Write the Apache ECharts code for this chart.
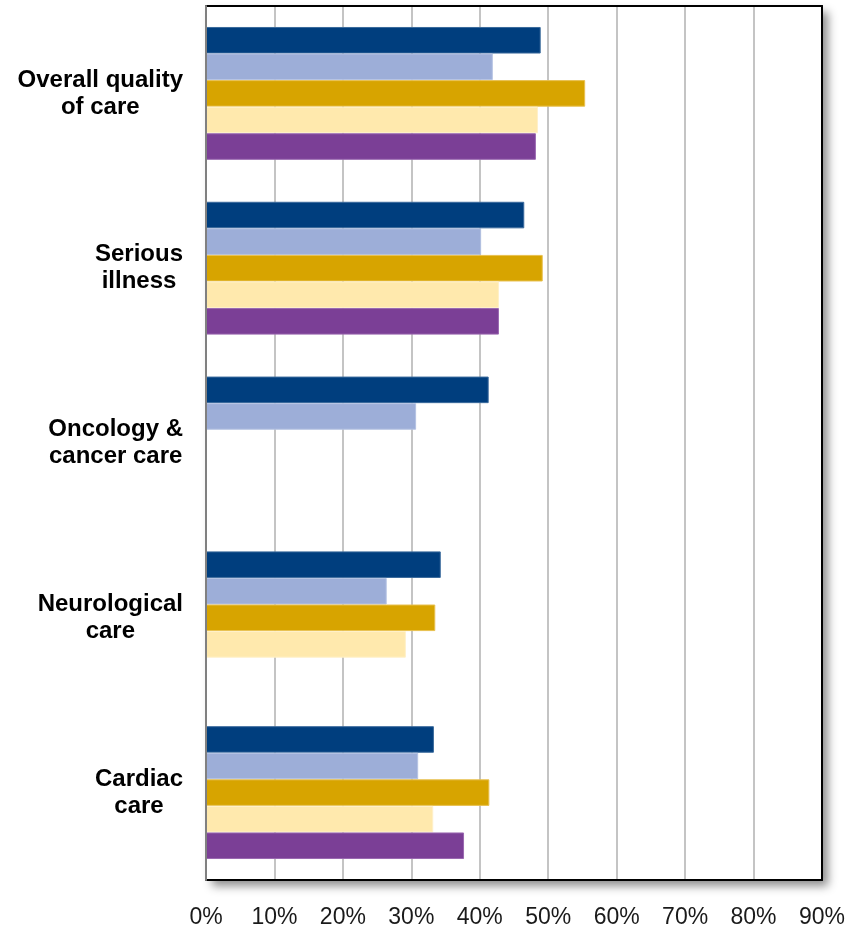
<!DOCTYPE html>
<html>
<head>
<meta charset="utf-8">
<script src="https://cdn.jsdelivr.net/npm/echarts@6/dist/echarts.min.js"></script>
<style>
html,body{margin:0;padding:0;background:#fff;}
#chart{width:866px;height:929px;}
</style>
</head>
<body>
<div id="chart"></div>
<script>
const categories = ["Overall quality\nof care", "Serious\nillness", "Oncology &\ncancer care", "Neurological\ncare", "Cardiac\ncare"];
const series1 = [48.9, 46.5, 41.3, 34.3, 33.3];
const series2 = [41.9, 40.2, 30.7, 26.4, 31.0];
const series3 = [55.4, 49.2, null, 33.5, 41.4];
const series4 = [48.5, 42.8, null, 29.2, 33.2];
const series5 = [48.2, 42.8, null, null, 37.7];
const seriesNames = ["Series 1", "Series 2", "Series 3", "Series 4", "Series 5"];
const colors = ["#003E7E", "#9DAED8", "#D7A400", "#FFE9AD", "#7B3F96"];
const borders = ["#3a6a9c", "#b4c2e2", "#e8c050", "#fff0c8", "#9a68b0"];
const xTicks = [0, 10, 20, 30, 40, 50, 60, 70, 80, 90];

const chart = echarts.init(document.getElementById('chart'), null, {renderer: 'canvas'});
const allData = [series1, series2, series3, series4, series5];
const xMin = xTicks[0], xMax = xTicks[xTicks.length - 1];
chart.setOption({
  animation: false,
  grid: {
    left: 206, right: 44, top: 6, bottom: 49,
    show: true,
    backgroundColor: '#ffffff',
    borderWidth: 0,
    shadowColor: 'rgba(0,0,0,0.45)',
    shadowBlur: 9,
    shadowOffsetX: 6,
    shadowOffsetY: 6
  },
  xAxis: [{
    type: 'value',
    position: 'bottom',
    min: xMin,
    max: xMax,
    interval: 10,
    axisLine: {show: true, onZero: false, lineStyle: {color: '#000', width: 2}},
    axisTick: {show: false},
    axisLabel: {
      formatter: '{value}%',
      fontFamily: 'Liberation Sans, Arial, sans-serif',
      fontSize: 23,
      color: '#1a1a1a',
      margin: 26
    },
    splitLine: {show: true, showMinLine: false, showMaxLine: false, lineStyle: {color: '#c4c4c4', width: 2}}
  }, {
    type: 'value',
    position: 'top',
    min: xMin,
    max: xMax,
    interval: 10,
    axisLine: {show: true, onZero: false, lineStyle: {color: '#000', width: 2}},
    axisTick: {show: false},
    axisLabel: {show: false},
    splitLine: {show: false}
  }],
  yAxis: [{
    type: 'category',
    position: 'left',
    inverse: true,
    data: categories,
    z: 5,
    axisLine: {show: true, onZero: false, lineStyle: {color: '#808080', width: 2}},
    axisTick: {show: false},
    axisLabel: {
      align: 'right',
      margin: 23,
      formatter: v => '{a|' + v + '}',
      rich: {
        a: {
          align: 'center',
          fontFamily: 'Liberation Sans, Arial, sans-serif',
          fontWeight: 'bold',
          fontSize: 24,
          lineHeight: 27,
          color: '#000'
        }
      }
    }
  }, {
    type: 'category',
    position: 'right',
    inverse: true,
    data: categories,
    axisLine: {show: true, onZero: false, lineStyle: {color: '#000', width: 2}},
    axisTick: {show: false},
    axisLabel: {show: false}
  }],
  series: allData.map((d, i) => ({
    name: seriesNames[i],
    type: 'bar',
    data: d,
    barGap: '0%',
    barCategoryGap: '24%',
    itemStyle: {color: colors[i], borderColor: borders[i], borderWidth: 1}
  }))
});
</script>
</body>
</html>
